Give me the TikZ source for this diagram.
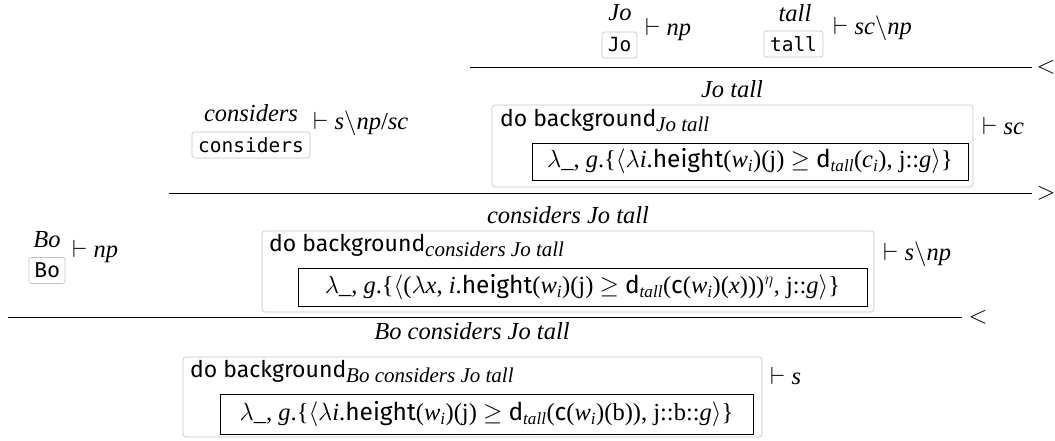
\documentclass[tikz,border=0pt]{standalone}
\usepackage{amsmath}
\usepackage{fontspec}
\setmainfont{Liberation Serif}
\setsansfont{Fira Sans}
\setmonofont{DejaVu Sans Mono}
\definecolor{boxgray}{RGB}{200,192,186}
\newcommand\vi[1]{\textit{#1}}
\newcommand\sfn[1]{\textsf{#1}}
\newcommand\wsub{\vi{w}$_{\vi{i}}$}
\newcommand\bsz{\fontsize{24.5}{29}\selectfont}
\newcommand\ssz{\fontsize{19.5}{23}\selectfont}
\newcommand\dsz{\fontsize{23}{27}\selectfont}
\newcommand\dsub[1]{\raisebox{-5.5pt}{\fontsize{21}{24}\selectfont\rmfamily\itshape #1}}
\begin{document}
\begin{tikzpicture}[x=1pt,y=-1pt,
  every node/.style={inner sep=0pt, font=\bsz},
  wordlabel/.style={font=\bsz\itshape},
  leafbox/.style={draw=boxgray, line width=0.6pt, rounded corners=2.5pt, font=\ssz\ttfamily, minimum height=26pt},
  outerbox/.style={draw=boxgray, line width=0.6pt, rounded corners=3pt},
  lfbox/.style={draw=black, line width=0.8pt},
  judg/.style={anchor=mid west},
  dobg/.style={anchor=mid west, font=\dsz\sffamily},
  infer/.style={line width=1pt},
  ruletag/.style={font=\bsz}
]
\useasboundingbox (0,0) rectangle (1055,440);

% leaves
\node[wordlabel] (jolab) at (620,13) {Jo};
\node[leafbox, minimum width=35pt] (jobox) at (619.5,45) {Jo};
\node[judg] (jojud) at (645,33) {$\vdash$ \vi{np}};

\node[wordlabel] (talllab) at (795,13) {tall};
\node[leafbox, minimum width=59pt] (tallbox) at (793.5,44) {tall};
\node[judg] (talljud) at (833,32) {$\vdash$ \vi{sc}$\backslash$\vi{np}};

\node[wordlabel] (conslab) at (251,113) {considers};
\node[leafbox, minimum width=118pt] (consbox) at (251,145) {considers};
\node[judg] (consjud) at (313,127) {$\vdash$ \vi{s}$\backslash$\vi{np}/\vi{sc}};

\node[wordlabel] (bolab) at (47,240) {Bo};
\node[leafbox, minimum width=36pt, font=\fontsize{21.5}{24}\selectfont\sffamily] (bobox) at (47,270.5) {Bo};
\node[judg] (bojud) at (72,255) {$\vdash$ \vi{np}};

% rule 1
\coordinate (r1a) at (470,67);
\coordinate (r1b) at (1032,67);
\draw[infer] (r1a) -- (r1b);
\node[ruletag] (r1t) at (1046,67) {$<$};

% box 1
\node[wordlabel] (lab1) at (732,89) {Jo tall};
\node[outerbox, minimum width=481pt, minimum height=82pt] (ob1) at (732.5,146) {};
\node[dobg] (dobg1) at (500,124) {do background\dsub{Jo tall}};
\node[lfbox, minimum width=436pt, minimum height=37pt] (lf1) at (750,161.5)
  {$\lambda$\_, \vi{g}.\{$\langle\lambda$\vi{i}.\sfn{height}(\wsub)(j) $\geq$ \sfn{d}$_{\vi{tall}}$(\vi{c}$_{\vi{i}}$), j::\vi{g}$\rangle$\}};
\node[judg] (jud1) at (982,132) {$\vdash$ \vi{sc}};

% rule 2
\coordinate (r2a) at (169,193);
\coordinate (r2b) at (1032,193);
\draw[infer] (r2a) -- (r2b);
\node[ruletag] (r2t) at (1046,193) {$>$};

% box 2
\node[wordlabel] (lab2) at (568,215) {considers Jo tall};
\node[outerbox, minimum width=612pt, minimum height=81pt] (ob2) at (568,271.5) {};
\node[dobg] (dobg2) at (269,249) {do background\dsub{considers Jo tall}};
\node[lfbox, minimum width=569pt, minimum height=38pt] (lf2) at (582.5,287)
  {$\lambda$\_, \vi{g}.\{$\langle$($\lambda$\vi{x}, \vi{i}.\sfn{height}(\wsub)(j) $\geq$ \sfn{d}$_{\vi{tall}}$(\sfn{c}(\wsub)(\vi{x})))$^{\eta}$, j::\vi{g}$\rangle$\}};
\node[judg] (jud2) at (883,258) {$\vdash$ \vi{s}$\backslash$\vi{np}};

% rule 3
\coordinate (r3a) at (8,317);
\coordinate (r3b) at (962,317);
\draw[infer] (r3a) -- (r3b);
\node[ruletag] (r3t) at (978,317) {$<$};

% box 3
\node[wordlabel] (lab3) at (472,331) {Bo considers Jo tall};
\node[outerbox, minimum width=579pt, minimum height=80pt] (ob3) at (472.5,397) {};
\node[dobg] (dobg3) at (190,375) {do background\dsub{Bo considers Jo tall}};
\node[lfbox, minimum width=533pt, minimum height=40pt] (lf3) at (486.5,414)
  {$\lambda$\_, \vi{g}.\{$\langle\lambda$\vi{i}.\sfn{height}(\wsub)(j) $\geq$ \sfn{d}$_{\vi{tall}}$(\sfn{c}(\wsub)(b)), j::b::\vi{g}$\rangle$\}};
\node[judg] (jud3) at (770,382) {$\vdash$ \vi{s}};
\end{tikzpicture}
\end{document}
